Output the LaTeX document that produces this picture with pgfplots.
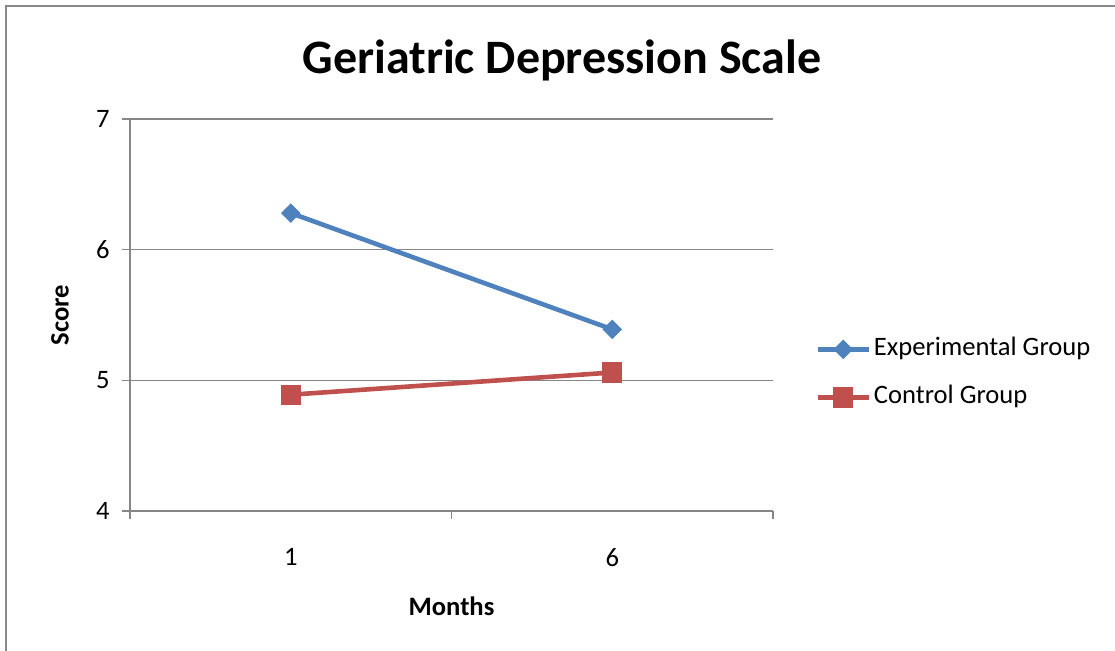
\documentclass[border=0pt]{standalone}
\usepackage{fontspec}
\setmainfont{Carlito}
\usepackage{pgfplots}
\pgfplotsset{compat=1.18}
\definecolor{xlblue}{HTML}{4F81BD}
\definecolor{xlred}{HTML}{C0504D}
\definecolor{xlgrid}{RGB}{134,134,134}
\definecolor{xlborder}{RGB}{136,136,136}
\begin{document}
\fontsize{13.3bp}{16bp}\selectfont
\begin{tikzpicture}
\useasboundingbox (0,0) rectangle (557.5bp,325.5bp);
\fill[white] (0,0) rectangle (557.5bp,325.5bp);
\draw[xlborder, line width=1.1bp] (3bp,0) -- (3bp,322.5bp) -- (557.5bp,322.5bp);
\node[font=\fontsize{24bp}{28bp}\selectfont\bfseries] at (281bp,295.5bp) {Geriatric Depression Scale};
\begin{axis}[
  scale only axis,
  width=321.5bp, height=196bp,
  at={(65bp,70bp)}, anchor=south west,
  xmin=0, xmax=2, ymin=4, ymax=7,
  axis x line=bottom, axis y line=left,
  axis line style={xlgrid, line width=0.6bp, -},
  tick align=outside,
  major tick length=4bp,
  tick style={xlgrid, line width=0.6bp},
  xtick={0,1,2}, xticklabels={},
  extra x ticks={0.5,1.5}, extra x tick labels={1,6},
  extra x tick style={major tick length=0pt, grid=none, tick label style={yshift=-14bp}},
  ytick={4,5,6,7},
  ymajorgrids, grid style={xlgrid, line width=0.6bp},
  yticklabel style={xshift=-1.6bp},
  /pgf/number format/assume math mode=true,
  tick label style={font=\fontsize{13.3bp}{16bp}\selectfont},
  xlabel={\bfseries Months},
  ylabel={\bfseries Score},
  every axis x label/.style={at={(axis description cs:0.5,0)}, yshift=-47.5bp, anchor=center, font=\fontsize{13.3bp}{16bp}\selectfont},
  every axis y label/.style={at={(axis description cs:0,0.5)}, xshift=-35bp, rotate=90, anchor=center, font=\fontsize{13.3bp}{16bp}\selectfont},
  legend style={draw=none, fill=none, at={(axis description cs:1.0653,0.351)}, anchor=west,
    inner sep=0pt, row sep=8.5bp, font=\fontsize{13.3bp}{16bp}\selectfont,
    nodes={inner sep=1.5bp, text height=9.5bp, text depth=3bp}},
  legend cell align=left,
  legend image code/.code={\draw[mark repeat=2,mark phase=2,#1] plot coordinates {(0bp,0bp) (12.75bp,0bp) (25.5bp,0bp)};},
]
\addplot[xlblue, line width=2.3bp, mark=square*, mark size=3.2bp, mark options={rotate=45, solid, line width=0.5bp}]
  coordinates {(0.5,6.28) (1.5,5.39)};
\addlegendentry{Experimental Group}
\addplot[xlred, line width=2.3bp, mark=square*, mark size=4.8bp, mark options={solid, line width=0.5bp}]
  coordinates {(0.5,4.89) (1.5,5.06)};
\addlegendentry{Control Group}
\end{axis}
\end{tikzpicture}
\end{document}
